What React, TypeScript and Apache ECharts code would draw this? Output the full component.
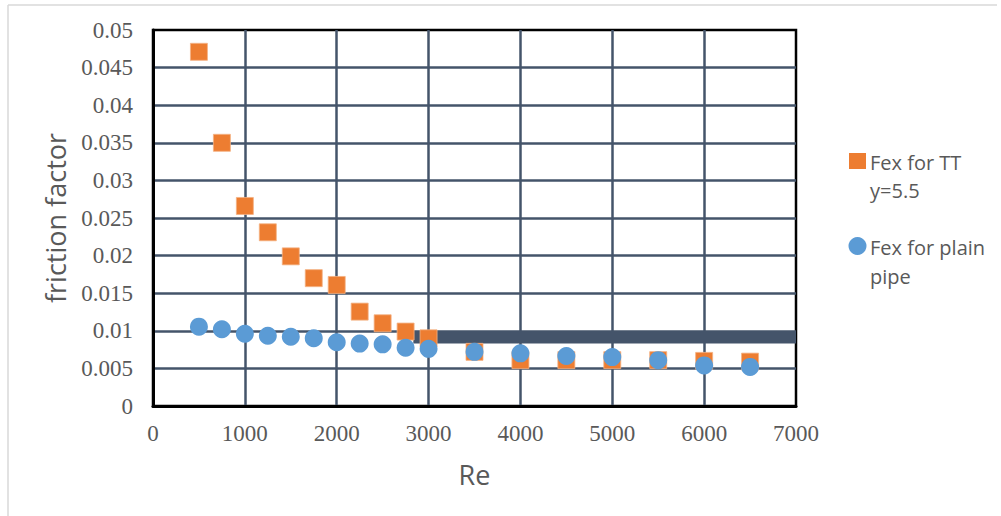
import React, { useEffect, useRef } from "react";
import * as echarts from "echarts";

const reValues = [500, 750, 1000, 1250, 1500, 1750, 2000, 2250, 2500, 2750, 3000, 3500, 4000, 4500, 5000, 5500, 6000, 6500];
const fexTT = [0.0471, 0.035, 0.0266, 0.0231, 0.0199, 0.0170, 0.0161, 0.01255, 0.0110, 0.0099, 0.0090, 0.0072, 0.0061, 0.0061, 0.0061, 0.0061, 0.0060, 0.0059];
const fexPlain = [0.01055, 0.0102, 0.0096, 0.00935, 0.0092, 0.0090, 0.00847, 0.0083, 0.0082, 0.00775, 0.0076, 0.0072, 0.0070, 0.00665, 0.0065, 0.0061, 0.0054, 0.0052];
const bandFrom = [2834, 0.00997];
const bandTo = [7000, 0.0083];
const seriesNames = ["Fex for TT y=5.5", "Fex for plain pipe"];

export default function App() {
  const ref = useRef<HTMLDivElement>(null);
  useEffect(() => {
    document.body.style.margin = "0";
    const chart = echarts.init(ref.current!, null, { renderer: "svg" });
    const grid = "#44546a";
    const txt = "#595959";
    chart.setOption({
      animation: false,
      backgroundColor: "#ffffff",
      grid: { left: 153, top: 30, width: 643, height: 376, show: true, borderColor: "#000", borderWidth: 2.5, backgroundColor: "transparent" },
      xAxis: {
        type: "value",
        min: 0,
        max: 7000,
        interval: 1000,
        name: "Re",
        nameLocation: "middle",
        nameGap: 55,
        nameTextStyle: { fontFamily: "Open Sans", fontSize: 27, color: txt },
        axisLine: { show: true, lineStyle: { color: "#000", width: 3 } },
        axisTick: { show: false },
        axisLabel: { formatter: (v: number) => String(v), fontFamily: "Liberation Serif", fontSize: 23, color: txt, margin: 16 },
        splitLine: { show: true, showMinLine: false, showMaxLine: false, lineStyle: { color: grid, width: 2.5 } },
      },
      yAxis: {
        type: "value",
        min: 0,
        max: 0.05,
        interval: 0.005,
        name: "friction factor",
        nameLocation: "middle",
        nameGap: 84,
        nameTextStyle: { fontFamily: "Open Sans", fontSize: 27, color: txt },
        axisLine: { show: true, lineStyle: { color: "#000", width: 3 } },
        axisTick: { show: false },
        axisLabel: { fontFamily: "Liberation Serif", fontSize: 23, color: txt, margin: 20 },
        splitLine: { show: true, showMinLine: false, showMaxLine: false, lineStyle: { color: grid, width: 2.5 } },
      },
      series: [
        {
          name: seriesNames[0],
          type: "scatter",
          symbol: "rect",
          symbolSize: 17,
          itemStyle: { color: "#ed7d31", opacity: 1, borderColor: "#f4b183", borderWidth: 0.8 },
          data: reValues.map((x, i) => [x, fexTT[i]]),
          z: 3,
          markArea: {
            silent: true,
            itemStyle: { color: grid, opacity: 1 },
            data: [[{ coord: bandFrom }, { coord: bandTo }]],
          },
        },
        {
          name: seriesNames[1],
          type: "scatter",
          symbol: "circle",
          symbolSize: 18,
          itemStyle: { color: "#5b9bd5", opacity: 1 },
          data: reValues.map((x, i) => [x, fexPlain[i]]),
          z: 4,
        },
      ],
      graphic: [
        { type: "line", shape: { x1: 8, y1: 5, x2: 8, y2: 516 }, style: { stroke: "#d9d9d9", lineWidth: 1.5 } },
        { type: "line", shape: { x1: 8, y1: 5, x2: 997, y2: 5 }, style: { stroke: "#d9d9d9", lineWidth: 1.5 } },
        { type: "rect", shape: { x: 849, y: 153, width: 17, height: 16 }, style: { fill: "#ed7d31" } },
        { type: "text", x: 870, y: 162, style: { text: "Fex for TT", fontFamily: "Open Sans", fontSize: 20, fill: txt, verticalAlign: "middle" } },
        { type: "text", x: 870, y: 190, style: { text: "y=5.5", fontFamily: "Open Sans", fontSize: 20, fill: txt, verticalAlign: "middle" } },
        { type: "circle", shape: { cx: 857.5, cy: 246, r: 9 }, style: { fill: "#5b9bd5" } },
        { type: "text", x: 870, y: 247, style: { text: "Fex for plain", fontFamily: "Open Sans", fontSize: 20, fill: txt, verticalAlign: "middle" } },
        { type: "text", x: 870, y: 276, style: { text: "pipe", fontFamily: "Open Sans", fontSize: 20, fill: txt, verticalAlign: "middle" } },
      ],
    });
    return () => chart.dispose();
  }, []);
  return <div ref={ref} style={{ position: "fixed", left: 0, top: 0, width: 1001, height: 516 }} />;
}
